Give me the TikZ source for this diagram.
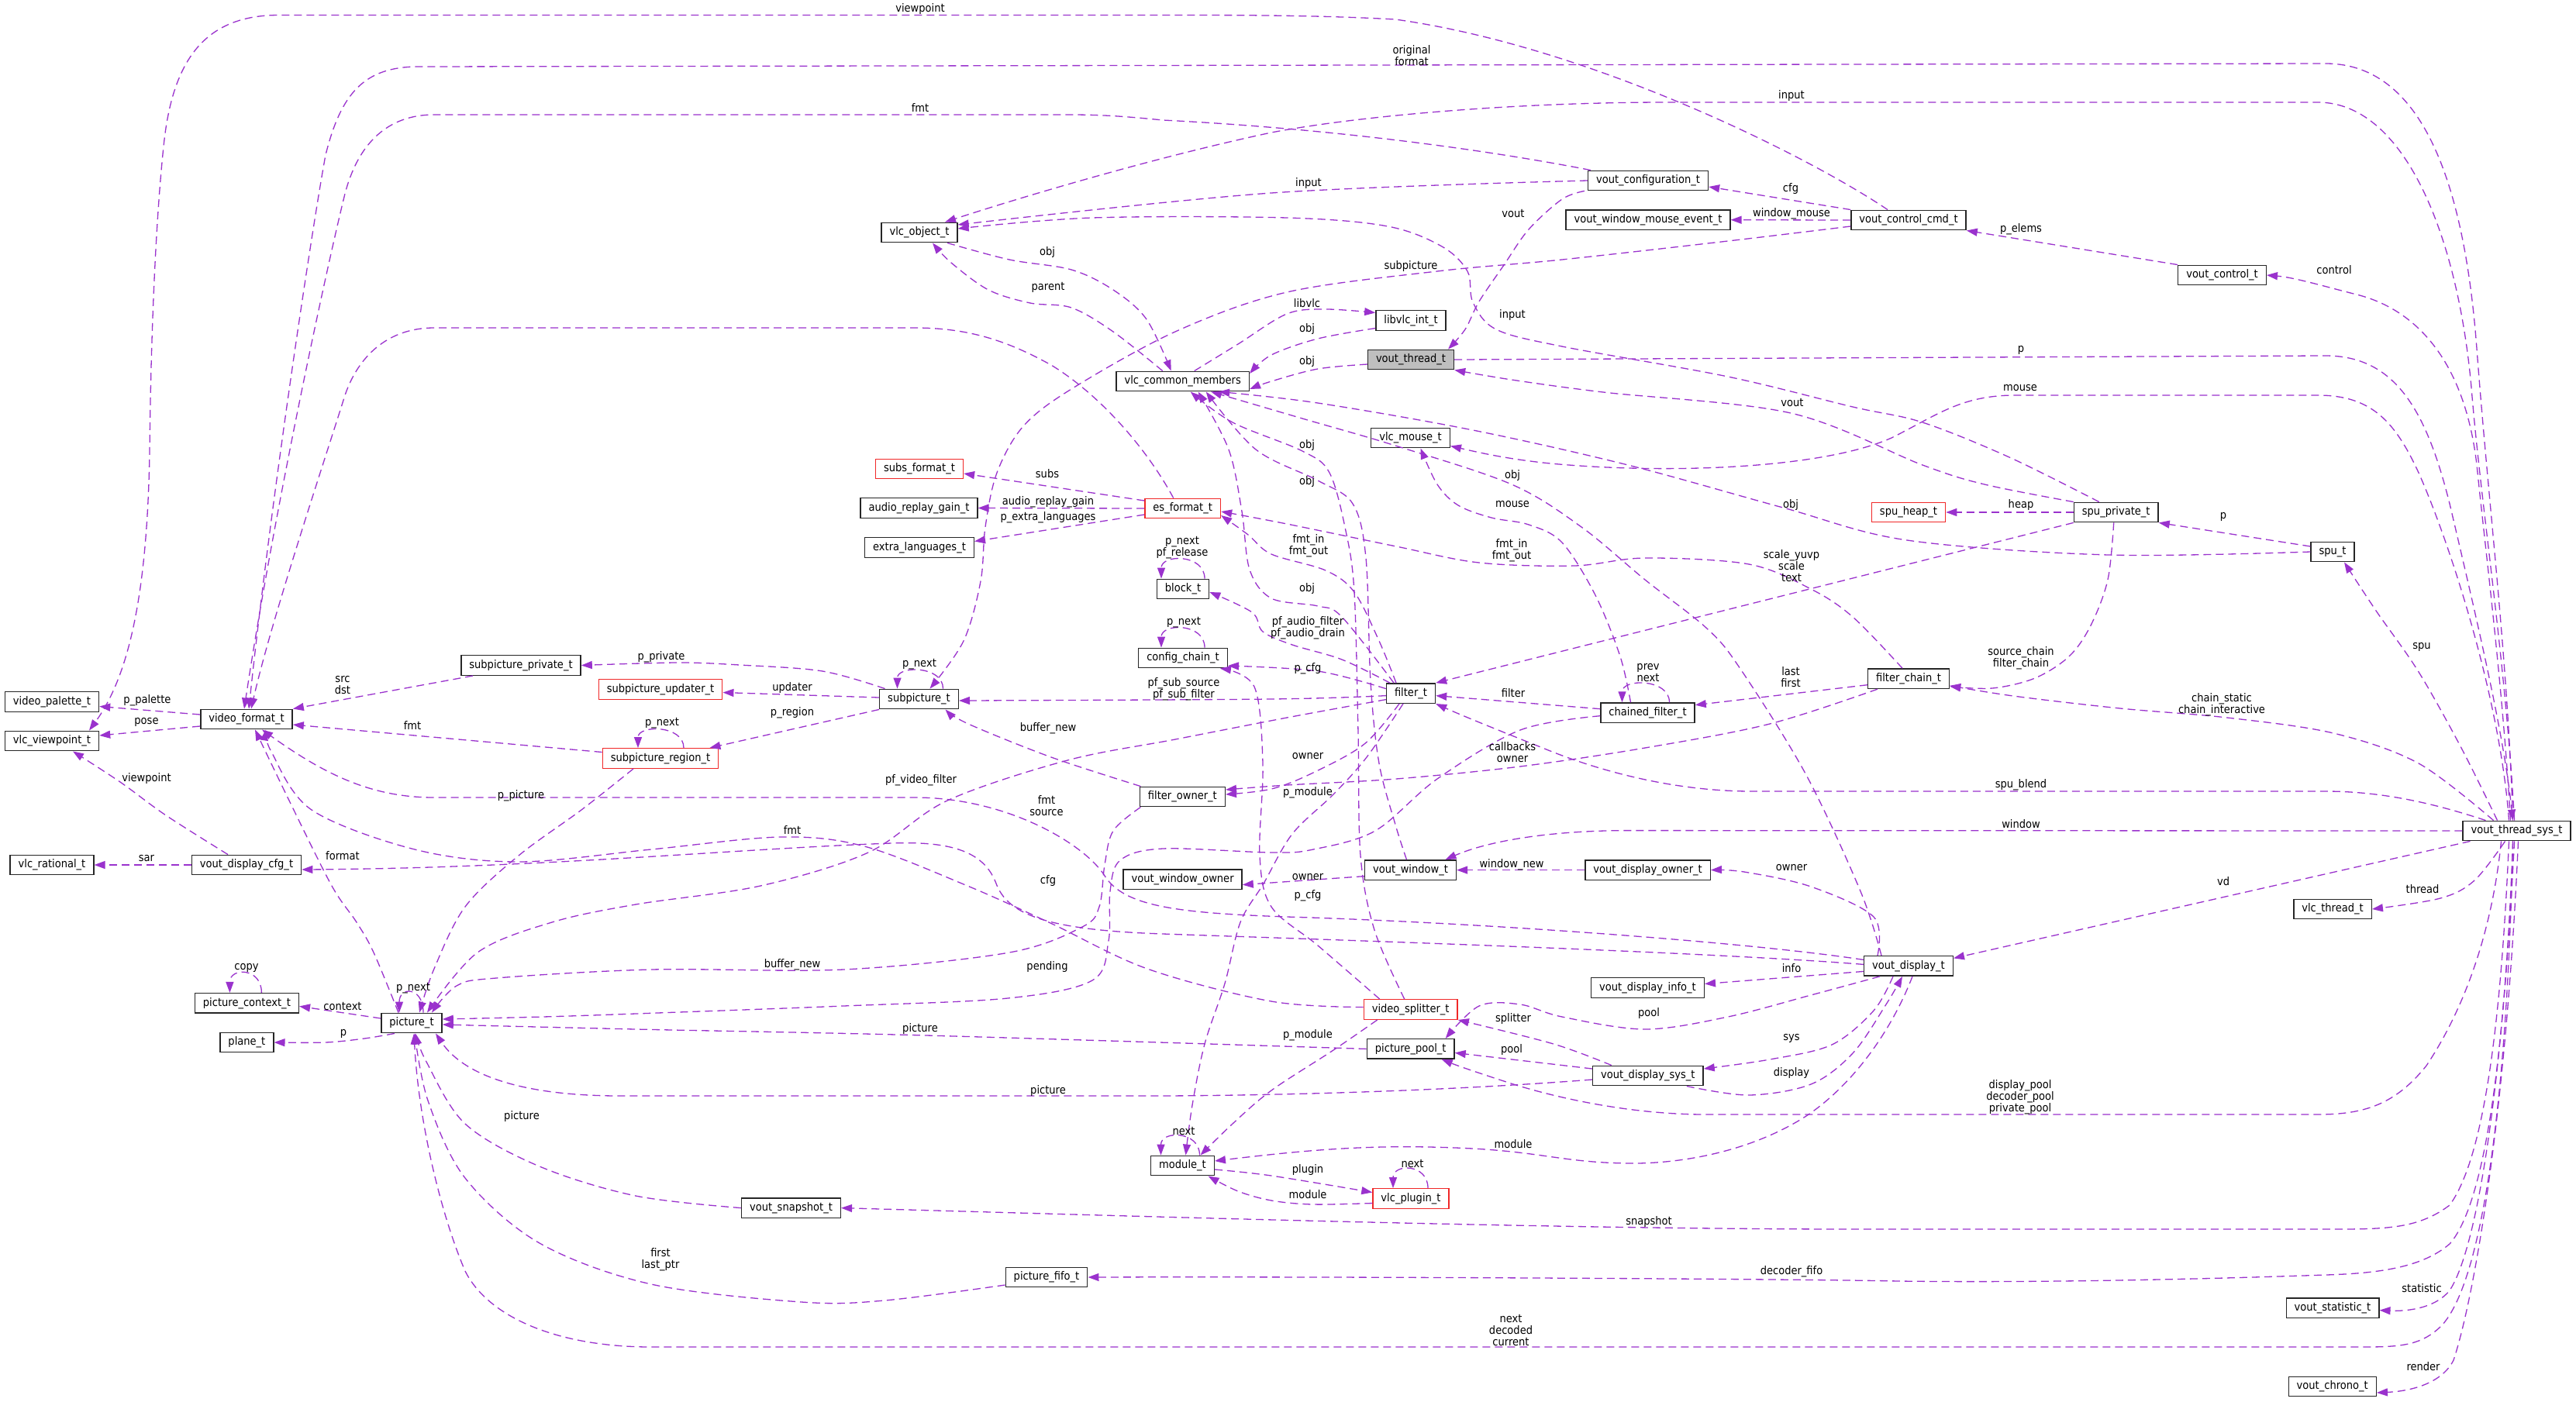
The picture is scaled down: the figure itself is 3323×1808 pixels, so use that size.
\documentclass[tikz,border=0pt]{standalone}
\usepackage{fontspec}
\newfontfamily\nf{DejaVu Sans}[FakeStretch=0.9]
\usetikzlibrary{arrows.meta}
\definecolor{ecol}{RGB}{154,50,205}
\definecolor{rcol}{RGB}{240,40,40}
\definecolor{gcol}{RGB}{191,191,191}
\newcommand\nodefont{\nf\fontsize{14.5pt}{15pt}\selectfont}
\newcommand\edgeP[1]{\draw[edg] plot[smooth,tension=0.55] coordinates {#1};}
\newcommand\lab[4]{\node[lbl] (#1) at (#2,#3) {#4};}
\tikzset{
 box/.style={draw=black!85, line width=1.4pt, fill=white, minimum height=25.5pt, inner xsep=10.5pt, inner ysep=0pt, font=\nodefont},
 redbox/.style={box, draw=rcol},
 graybox/.style={box, fill=gcol},
 edg/.style={draw=ecol, line width=1.3pt, dash pattern=on 10pt off 6pt, -{Triangle[length=14pt,width=10pt,fill=ecol]}},
 lbl/.style={font=\nodefont, align=center, inner sep=0pt}
}
\begin{document}
\begin{tikzpicture}[x=1pt,y=-1pt]
\fill[white] (0,0) rectangle (3323,1808);
\useasboundingbox (0,0) rectangle (3323,1808);
% nodes
\node[box] (vpal) at (67,905.5) {video\_palette\_t};
\node[box] (vvp) at (67,956) {vlc\_viewpoint\_t};
\node[box] (vfmt) at (318,928) {video\_format\_t};
\node[box] (vrat) at (67,1116) {vlc\_rational\_t};
\node[box] (vdcfg) at (318,1116) {vout\_display\_cfg\_t};
\node[box] (sppriv) at (672,858.5) {subpicture\_private\_t};
\node[redbox] (spupd) at (852,889.5) {subpicture\_updater\_t};
\node[redbox] (spreg) at (852,978.5) {subpicture\_region\_t};
\node[box] (subpic) at (1185.5,902) {subpicture\_t};
\node[redbox] (subsf) at (1186,605) {subs\_format\_t};
\node[box] (argain) at (1185.5,655.5) {audio\_replay\_gain\_t};
\node[box] (extl) at (1186,706.5) {extra\_languages\_t};
\node[redbox] (esf) at (1525.7,656) {es\_format\_t};
\node[box] (blk) at (1526,760) {block\_t};
\node[box] (cfgc) at (1526,849) {config\_chain\_t};
\node[box] (fown) at (1525.4,1028) {filter\_owner\_t};
\node[box] (vwown) at (1525.6,1134.6) {vout\_window\_owner};
\node[box] (vobj) at (1186,300) {vlc\_object\_t};
\node[box] (vcm) at (1525.7,492) {vlc\_common\_members};
\node[box] (vcfg) at (2126,233) {vout\_configuration\_t};
\node[box] (vwme) at (2126,283.7) {vout\_window\_mouse\_event\_t};
\node[box] (vccmd) at (2462,284) {vout\_control\_cmd\_t};
\node[box] (libvlc) at (1820,413.5) {libvlc\_int\_t};
\node[graybox] (vth) at (1820,464) {vout\_thread\_t};
\node[box] (vmouse) at (1819.5,565) {vlc\_mouse\_t};
\node[box] (vctl) at (2866.5,355) {vout\_control\_t};
\node[redbox] (spuheap) at (2462,661) {spu\_heap\_t};
\node[box] (spupriv) at (2729.7,661) {spu\_private\_t};
\node[box] (spu) at (3009,712) {spu\_t};
\node[box] (fchain) at (2462,875.7) {filter\_chain\_t};
\node[box] (filt) at (1820,894.6) {filter\_t};
\node[box] (chf) at (2125.5,919.7) {chained\_filter\_t};
\node[box] (vwin) at (1819.5,1122.6) {vout\_window\_t};
\node[box] (vdown) at (2125.5,1122.6) {vout\_display\_owner\_t};
\node[box] (vts) at (3246.5,1072) {vout\_thread\_sys\_t};
\node[box] (vthr) at (3009,1173) {vlc\_thread\_t};
\node[box] (vd) at (2462,1246.4) {vout\_display\_t};
\node[box] (vdinfo) at (2125.5,1274.5) {vout\_display\_info\_t};
\node[redbox] (vsplit) at (1819.7,1302.5) {video\_splitter\_t};
\node[box] (ppool) at (1819.7,1353.4) {picture\_pool\_t};
\node[box] (vdsys) at (2125.8,1388) {vout\_display\_sys\_t};
\node[box] (mod) at (1525.5,1504) {module\_t};
\node[redbox] (plug) at (1820,1546.5) {vlc\_plugin\_t};
\node[box] (snap) at (1020.5,1558.6) {vout\_snapshot\_t};
\node[box] (pfifo) at (1350,1648) {picture\_fifo\_t};
\node[box] (vstat) at (3009,1687.6) {vout\_statistic\_t};
\node[box] (vchr) at (3008.7,1789) {vout\_chrono\_t};
\node[box] (pctx) at (318.4,1294.4) {picture\_context\_t};
\node[box] (plane) at (318.4,1345) {plane\_t};
\node[box] (pic) at (531,1320) {picture\_t};
% long edges (explicit curves)
\draw[edg] ([xshift=-27pt]vccmd.north) .. controls (2330,200) and (2050,60) .. (1800,25) .. controls (1700,19.5) and (1600,19.5) .. (1500,19.5) -- (360,19.5) .. controls (270,19.5) and (225,70) .. (212,180) .. controls (203,260) and (195,400) .. (193,584) .. controls (190,760) and (168,870) .. ([xshift=48pt]vvp.north);
\draw[edg] ([xshift=-5pt]vts.north) .. controls (3235,850) and (3210,650) .. (3195,450) .. controls (3180,250) and (3130,82) .. (3000,82) -- (540,86) .. controls (470,86) and (440,120) .. (420,200) .. controls (405,280) and (350,640) .. ([xshift=3pt]vfmt.north);
\draw[edg] ([xshift=-74pt]vcfg.north) .. controls (1900,190) and (1700,165) .. (1500,155) .. controls (1450,150) and (1420,148) .. (1380,148) -- (560,148) .. controls (500,148) and (462,185) .. (445,250) .. controls (425,330) and (355,650) .. ([xshift=-3pt]vfmt.north);
\draw[edg] ([xshift=-3pt]vts.north) .. controls (3232,850) and (3200,650) .. (3188,500) .. controls (3170,300) and (3100,132) .. (2990,132) -- (2150,132) .. controls (1950,132) and (1750,150) .. (1640,171) .. controls (1480,205) and (1300,260) .. ([xshift=33pt]vobj.north);
\draw[edg] ([xshift=-8pt]vts.north) .. controls (3228,880) and (3205,700) .. (3195,600) .. controls (3180,470) and (3120,400) .. (3040,380) .. controls (3000,370) and (2960,358) .. (vctl.east);
\draw[edg] (vth.east) -- (3000,459) .. controls (3090,459) and (3130,530) .. (3160,650) .. controls (3200,820) and (3230,950) .. ([xshift=-5pt]vts.north);
\draw[edg] ([xshift=-10pt]vts.north) .. controls (3225,900) and (3160,700) .. (3120,610) .. controls (3090,545) and (3060,510) .. (2990,510) -- (2600,510) .. controls (2530,510) and (2500,535) .. (2440,565) .. controls (2350,605) and (2150,612) .. (2000,598) .. controls (1940,592) and (1900,582) .. ([yshift=3pt]vmouse.south east);
\draw[edg] ([xshift=-12pt]esf.north) .. controls (1480,580) and (1420,510) .. (1356,471) .. controls (1300,440) and (1250,423) .. (1180,423) -- (560,423) .. controls (500,423) and (462,460) .. (445,510) .. controls (420,590) and (350,800) .. ([xshift=6pt]vfmt.north);
\draw[edg] ([xshift=-40pt]vts.north) .. controls (3150,1040) and (3080,1021) .. (3000,1021) -- (2260,1021) .. controls (2150,1021) and (2050,990) .. (1990,965) .. controls (1940,945) and (1890,925) .. (filt.south east);
\draw[edg] (vts.west) -- (2100,1071.6) .. controls (2000,1071.6) and (1920,1085) .. ([xshift=45pt]vwin.north);
\draw[edg] ([xshift=-20pt]vts.south) .. controls (3215,1200) and (3180,1300) .. (3130,1375) .. controls (3090,1425) and (3050,1438) .. (2990,1438) -- (2200,1438) .. controls (2100,1438) and (2000,1415) .. (1940,1395) .. controls (1900,1382) and (1880,1375) .. ([xshift=40pt]ppool.south);
\draw[edg] ([xshift=5pt]vd.south) .. controls (2440,1330) and (2390,1400) .. (2330,1440) .. controls (2260,1485) and (2170,1502) .. (2100,1501) .. controls (2020,1500) and (1990,1487) .. (1900,1482) .. controls (1780,1476) and (1700,1482) .. ([yshift=6pt]mod.east);
\draw[edg] ([xshift=-5pt]vts.south) .. controls (3235,1400) and (3205,1650) .. (3150,1710) .. controls (3125,1735) and (3100,1738) .. (3050,1738) -- (840,1738) .. controls (720,1738) and (630,1700) .. (600,1640) .. controls (570,1570) and (540,1450) .. ([xshift=3pt]pic.south);
\draw[edg] ([xshift=-10pt]vts.south) .. controls (3225,1350) and (3200,1500) .. (3160,1555) .. controls (3120,1585) and (3080,1586) .. (3010,1586) -- (2400,1586) .. controls (2000,1586) and (1500,1570) .. (snap.east);
\draw[edg] ([xshift=-5pt]vts.south) .. controls (3230,1400) and (3200,1560) .. (3160,1605) .. controls (3125,1635) and (3070,1643) .. (3000,1645) .. controls (2800,1652) and (2600,1655) .. (2450,1653) .. controls (2300,1650) and (1700,1647) .. (pfifo.east);
\draw[edg] ([xshift=-3pt]vts.south) .. controls (3225,1450) and (3190,1620) .. (3160,1665) .. controls (3140,1690) and (3100,1692) .. ([yshift=-3pt]vstat.east);
\draw[edg] ([xshift=2pt]vts.south) .. controls (3232,1450) and (3190,1680) .. (3165,1755) .. controls (3150,1785) and (3110,1795) .. ([yshift=-8pt]vchr.east);
\draw[edg] ([yshift=8pt]vd.west) .. controls (2250,1215) and (1900,1190) .. (1660,1183) .. controls (1520,1178) and (1450,1170) .. (1425,1130) .. controls (1400,1090) and (1300,1029) .. (1180,1029) -- (560,1029) .. controls (480,1029) and (420,1000) .. ([xshift=20pt]vfmt.south);
\draw[edg] ([yshift=2pt]vd.west) .. controls (2200,1228) and (1700,1212) .. (1500,1205) .. controls (1350,1200) and (1300,1180) .. (1285,1140) .. controls (1270,1100) and (1230,1085) .. (1150,1088) .. controls (950,1095) and (700,1120) .. ([yshift=-6pt]vdcfg.east);
\draw[edg] ([yshift=-5pt]vdsys.west) .. controls (1900,1405) and (1700,1413) .. (1500,1414) -- (800,1414) .. controls (680,1414) and (600,1390) .. ([xshift=31pt]pic.south);
% other edges
\edgeP{(vcfg.west) (1640,249) ([yshift=10pt]vobj.east)}
\edgeP{([xshift=-22pt]spupriv.north) (2592,590) (2480,545) (2390,525) (2229,486) (2015,447) (1930,425) (1900,390) (1893,350) (1860,318) (1790,292) (1660,281) (1409,281) ([yshift=5pt]vobj.east)}
\edgeP{(spupriv.north west) (2560,625) (2480,600) (2310,533) (2068,506) (1950,490) (vth.south east)}
\edgeP{([xshift=-82pt]vcfg.south) (2015,257) (1972,296) (1940,342) (1908,389) (1890,425) ([xshift=48pt]vth.north)}
\edgeP{(vccmd.north west) ([yshift=-8pt]vcfg.east)}
\edgeP{(vccmd.west) (vwme.east)}
\edgeP{(vctl.north west) (vccmd.south east)}
\edgeP{([xshift=36pt]vobj.south) (1302,335) (1382,348) (1436,374) (1479,412) ([xshift=-15pt]vcm.north)}
\edgeP{([xshift=-26pt]vcm.north) (1436,428) (1382,397) (1329,391) (1275,374) (1227,339) ([xshift=17pt]vobj.south)}
\edgeP{([xshift=15pt]vcm.north) (1597,444) (1660,405) (1710,399) ([yshift=10pt]libvlc.west)}
\edgeP{([yshift=-10pt]libvlc.west) (1700,437) (1640,458) ([yshift=10pt]vcm.east)}
\edgeP{([yshift=-6pt]vth.west) (1700,476) (1640,492) ([yshift=-10pt]vcm.east)}
\edgeP{([yshift=-8pt]vccmd.west) (2229,311) (2015,335) (1854,350) (1660,377) (1516,428) (1382,502) (1320,550) (1286,610) (1271,680) (1265,750) (1243,827) ([xshift=14pt]subpic.north)}
\edgeP{(spu.west) (2720,716) (2460,697) (2300,655) (2100,600) (1900,555) (1700,520) ([xshift=-40pt]vcm.south east)}
\edgeP{([xshift=-35pt]vd.north) (2400,1150) (2330,1000) (2245,863) (2202,811) (2122,748) (2040,680) (1950,625) (1800,575) (1680,540) ([xshift=-50pt]vcm.south east)}
\edgeP{([xshift=-22pt]filt.north) (1731,796) (1700,782) (1640,772) (1612,735) (1602,660) (1585,580) ([xshift=20pt]vcm.south)}
\edgeP{([xshift=-5pt]vwin.north) (1800,1064) (1779,985) (1768,880) (1762,720) (1745,650) (1700,620) (1620,580) ([xshift=30pt]vcm.south)}
\edgeP{([xshift=-8pt]vsplit.north) (1773,1200) (1755,1104) (1752,946) (1747,764) (1736,685) (1715,610) (1680,582) (1590,545) ([xshift=10pt]vcm.south)}
\edgeP{([yshift=6pt]filt.west) (1700,866) ([yshift=-10pt]cfgc.east)}
\edgeP{([xshift=-27pt]filt.north) (1731,851) (1667,832) (1629,815) (1615,790) ([yshift=-4pt]blk.east)}
\edgeP{([xshift=-19pt]filt.north) (1779,827) (1747,764) (1710,736) (1640,715) (1610,690) ([yshift=-9pt]esf.east)}
\edgeP{([xshift=-8pt]fchain.north) (2390,796) (2336,760) (2256,728) (2122,720) (2031,730) (1908,726) (1801,705) (1660,676) ([yshift=-4pt]esf.east)}
\edgeP{([yshift=10pt]esf.west) ([yshift=-6pt]subsf.east)}
\edgeP{(esf.west) (argain.east)}
\edgeP{([yshift=-8pt]esf.west) ([yshift=8pt]extl.east)}
\edgeP{(spupriv.west) (spuheap.east)}
\edgeP{([yshift=7pt]spu.west) (spupriv.south east)}
\edgeP{(spupriv.south west) (filt.north east)}
\edgeP{([xshift=-3pt]spupriv.south) (2719,748) (2697,807) (2669,847) (2625,875) (2570,888) ([yshift=-10pt]fchain.east)}
\edgeP{([xshift=-30pt]vts.north) (3120,985) (3010,946) (2873,926) (2735,914) (2597,898) ([yshift=-9pt]fchain.east)}
\edgeP{([xshift=-25pt]vts.north) (3175,965) (3120,867) (3065,788) ([xshift=15pt]spu.south)}
\edgeP{([yshift=-8pt]fchain.west) ([yshift=10pt]chf.east)}
\edgeP{([yshift=5pt]chf.west) ([yshift=-3pt]filt.east)}
\edgeP{([xshift=-22pt]chf.north) (2090,847) (2058,768) (2015,700) (1972,677) (1924,668) (1881,652) (1854,625) ([xshift=13pt]vmouse.south)}
\edgeP{([xshift=-40pt]fchain.south) (2283,934) (2122,965) (1961,989) (1801,1005) (1660,1013) ([yshift=9pt]fown.east)}
\edgeP{([xshift=-15pt]filt.south) (1760,960) (1694,997) (1640,1018) ([yshift=3pt]fown.east)}
\edgeP{([yshift=-3pt]filt.west) (1640,902) ([yshift=-2pt]subpic.east)}
\edgeP{([xshift=-54pt]fown.north) (1356,977) (1249,934) ([xshift=34pt]subpic.south)}
\edgeP{([xshift=-44pt]subpic.north) (1061,866) (954,858) (874,855) (sppriv.east)}
\edgeP{([yshift=2pt]subpic.west) ([yshift=-4pt]spupd.east)}
\edgeP{(subpic.south west) ([xshift=-12pt]spreg.north east)}
\edgeP{([xshift=-62pt]sppriv.south) (vfmt.north east)}
\edgeP{([yshift=6pt]vfmt.west) ([yshift=-6pt]vpal.east)}
\edgeP{([yshift=-9pt]vfmt.west) ([yshift=7pt]vvp.east)}
\edgeP{([yshift=8pt]spreg.west) ([yshift=-7pt]vfmt.east)}
\edgeP{([xshift=-24pt]vdcfg.north) (214,1052) (155,1009) ([xshift=27pt]vvp.south)}
\edgeP{(vdcfg.west) (vrat.east)}
\edgeP{([xshift=-17pt]pic.north) (482,1229) (460,1190) (428,1143) (375,1037) ([xshift=11pt]vfmt.south)}
\edgeP{([yshift=3pt]vsplit.west) (1640,1292) (1480,1250) (1355,1191) (1248,1143) (1115,1092) (1007,1080) (840,1096) (669,1112) (535,1096) (402,1045) (350,970) ([xshift=25pt]vfmt.south)}
\edgeP{([xshift=-60pt]vts.south) ([yshift=10pt]vd.east)}
\edgeP{([xshift=-15pt]vts.south) (3192,1136) (3148,1159) (vthr.east)}
\edgeP{([xshift=-40pt]vd.north) (2417,1183) (2336,1144) (2250,1125) (vdown.east)}
\edgeP{(vdown.west) (vwin.east)}
\edgeP{([yshift=-8pt]vwin.west) ([yshift=-7pt]vwown.east)}
\edgeP{([yshift=-7pt]vd.west) ([yshift=5pt]vdinfo.east)}
\edgeP{([xshift=-37pt]vd.south) (2336,1284) (2229,1312) (2122,1328) (2015,1312) (1961,1296) (1908,1298) ([xshift=45pt]ppool.north)}
\edgeP{([xshift=-47pt]vdsys.north) (2004,1347) (vsplit.south east)}
\edgeP{([yshift=9pt]vdsys.west) ([yshift=-5pt]ppool.east)}
\edgeP{([xshift=-20pt]vd.south) (2417,1304) (2363,1348) (2283,1367) ([yshift=9pt]vdsys.east)}
\edgeP{([xshift=50pt]vdsys.south) (2256,1413) (2336,1399) (2390,1359) (2433,1296) ([xshift=-8pt]vd.south)}
\edgeP{([yshift=-5pt]mod.east) (1640,1517) ([yshift=8pt]plug.west)}
\edgeP{([yshift=-6pt]plug.west) (1693,1554) (1640,1549) (1597,1537) ([xshift=33pt]mod.south)}
\edgeP{([xshift=-10pt]filt.south) (1763,977) (1720,1025) (1667,1076) (1630,1140) (1600,1190) (1580,1269) (1554,1347) (1538,1426) ([xshift=4pt]mod.north)}
\edgeP{([xshift=-43pt]vsplit.south) (1720,1355) (1640,1407) (1590,1450) ([xshift=23pt]mod.north)}
\edgeP{([xshift=-40pt]vsplit.north) (1700,1220) (1640,1170) (1625,1104) (1629,985) (1618,886) ([xshift=-10pt]cfgc.south east)}
\edgeP{(ppool.west) (1195,1336) (820,1328) ([yshift=-2pt]pic.east)}
\edgeP{(snap.west) (820,1543) (696,1505) (600,1450) (550,1370) ([xshift=5pt]pic.south)}
\edgeP{([yshift=-10pt]pfifo.west) (1141,1678) (1034,1680) (840,1657) (696,1604) (600,1520) (552,1420) ([xshift=4pt]pic.south)}
\edgeP{([yshift=-8pt]filt.west) (1660,926) (1516,954) (1377,981) (1222,1033) (1120,1100) (981,1143) (820,1167) (712,1190) (616,1229) ([xshift=20pt]pic.north)}
\edgeP{([xshift=-35pt]spreg.south) (750,1045) (669,1104) (600,1170) (560,1250) ([xshift=10pt]pic.north)}
\edgeP{([xshift=-54pt]fown.south) (1436,1072) (1425,1116) (1418,1170) (1396,1196) (1302,1229) (1088,1251) (840,1251) (640,1262) (589,1272) ([xshift=26pt]pic.north)}
\edgeP{([yshift=-4pt]chf.west) (1961,942) (1854,1005) (1774,1072) (1694,1096) (1640,1100) (1500,1095) (1445,1110) (1432,1150) (1430,1214) (1409,1265) (1300,1288) (1088,1298) (820,1308) (700,1312) ([yshift=5pt]pic.east)}
\edgeP{([yshift=6pt]pic.west) ([yshift=-4pt]pctx.east)}
\edgeP{([xshift=-22pt]pic.south) (470,1340) (420,1345) (plane.east)}
% self loops
\draw[edg] ([xshift=31pt]subpic.north) .. controls +(0,-30) and +(0,-30) .. ([xshift=-28pt]subpic.north);
\draw[edg] ([xshift=30pt]spreg.north) .. controls +(0,-30) and +(0,-30) .. ([xshift=-29pt]spreg.north);
\draw[edg] ([xshift=28pt]blk.north) .. controls +(0,-32) and +(0,-32) .. ([xshift=-28pt]blk.north);
\draw[edg] ([xshift=28pt]cfgc.north) .. controls +(0,-32) and +(0,-32) .. ([xshift=-28pt]cfgc.north);
\draw[edg] ([xshift=28pt]chf.north) .. controls +(0,-31) and +(0,-31) .. ([xshift=-33pt]chf.north);
\draw[edg] ([xshift=15pt]pic.north) .. controls +(0,-34) and +(0,-34) .. ([xshift=-16pt]pic.north);
\draw[edg] ([xshift=19pt]pctx.north) .. controls +(0,-33) and +(0,-33) .. ([xshift=-22pt]pctx.north);
\draw[edg] ([xshift=22pt]mod.north) .. controls +(0,-32) and +(0,-32) .. ([xshift=-28pt]mod.north);
\draw[edg] ([xshift=22pt]plug.north) .. controls +(0,-32) and +(0,-32) .. ([xshift=-23pt]plug.north);
% labels
\lab{l1}{1187}{11}{viewpoint}
\lab{l2}{1821}{72}{original\\format}
\lab{l3}{2311}{123}{input}
\lab{l4}{1187}{139}{fmt}
\lab{l5}{1688}{236}{input}
\lab{l6}{2310}{243}{cfg}
\lab{l7}{2311}{276}{window\_mouse}
\lab{l8}{1952}{276}{vout}
\lab{l9}{2607}{296}{p\_elems}
\lab{l10}{3011}{348}{control}
\lab{l11}{1351}{325}{obj}
\lab{l12}{1820}{343}{subpicture}
\lab{l13}{1352}{371}{parent}
\lab{l14}{1686}{391}{libvlc}
\lab{l15}{1951}{406}{input}
\lab{l16}{1686}{424}{obj}
\lab{l17}{2607}{452}{p}
\lab{l18}{1686}{466}{obj}
\lab{l19}{2606}{501}{mouse}
\lab{l20}{2312}{520}{vout}
\lab{l21}{1686}{574}{obj}
\lab{l22}{1951}{613}{obj}
\lab{l23}{1686}{621}{obj}
\lab{l24}{2310}{651}{obj}
\lab{l25}{1351}{611}{subs}
\lab{l26}{1352}{648}{audio\_replay\_gain}
\lab{l27}{1352}{668}{p\_extra\_languages}
\lab{l28}{2607}{651}{heap}
\lab{l29}{1951}{651}{mouse}
\lab{l30}{2868}{667}{p}
\lab{l31}{1688}{704}{fmt\_in\\fmt\_out}
\lab{l32}{1950}{710}{fmt\_in\\fmt\_out}
\lab{l33}{2311}{730}{scale\_yuvp\\scale\\text}
\lab{l34}{1525}{707}{p\_next\\pf\_release}
\lab{l35}{1686}{759}{obj}
\lab{l36}{1687}{810}{pf\_audio\_filter\\pf\_audio\_drain}
\lab{l37}{1527}{803}{p\_next}
\lab{l38}{3124}{835}{spu}
\lab{l39}{2607}{849}{source\_chain\\filter\_chain}
\lab{l40}{853}{848}{p\_private}
\lab{l41}{1186}{857}{p\_next}
\lab{l42}{1687}{863}{p\_cfg}
\lab{l43}{2126}{868}{prev\\next}
\lab{l44}{2310}{874}{last\\first}
\lab{l45}{442}{884}{src\\dst}
\lab{l46}{1022}{887}{updater}
\lab{l47}{1527}{889}{pf\_sub\_source\\pf\_sub\_filter}
\lab{l48}{1952}{894}{filter}
\lab{l49}{2866}{909}{chain\_static\\chain\_interactive}
\lab{l50}{190}{904}{p\_palette}
\lab{l51}{189}{932}{pose}
\lab{l52}{532}{936}{fmt}
\lab{l53}{854}{933}{p\_next}
\lab{l54}{1022}{920}{p\_region}
\lab{l55}{1352}{940}{buffer\_new}
\lab{l56}{1951}{971}{callbacks\\owner}
\lab{l57}{1687}{976}{owner}
\lab{l58}{189}{1004}{viewpoint}
\lab{l59}{1188}{1007}{pf\_video\_filter}
\lab{l60}{2607}{1013}{spu\_blend}
\lab{l61}{672}{1027}{p\_picture}
\lab{l62}{1687}{1023}{p\_module}
\lab{l63}{1350}{1040}{fmt\\source}
\lab{l64}{2607}{1063}{window}
\lab{l65}{1022}{1071}{fmt}
\lab{l66}{442}{1104}{format}
\lab{l67}{189}{1108}{sar}
\lab{l68}{1950}{1116}{window\_new}
\lab{l69}{2311}{1120}{owner}
\lab{l70}{1687}{1132}{owner}
\lab{l71}{1352}{1136}{cfg}
\lab{l72}{2868}{1137}{vd}
\lab{l73}{3125}{1147}{thread}
\lab{l74}{1687}{1156}{p\_cfg}
\lab{l75}{318}{1249}{copy}
\lab{l76}{1022}{1245}{buffer\_new}
\lab{l77}{1351}{1247}{pending}
\lab{l78}{2311}{1249}{info}
\lab{l79}{533}{1275}{p\_next}
\lab{l80}{442}{1298}{context}
\lab{l81}{2127}{1307}{pool}
\lab{l82}{1952}{1314}{splitter}
\lab{l83}{1187}{1327}{picture}
\lab{l84}{443}{1334}{p}
\lab{l85}{1687}{1336}{p\_module}
\lab{l86}{2311}{1340}{sys}
\lab{l87}{1950}{1354}{pool}
\lab{l88}{2311}{1384}{display}
\lab{l89}{1352}{1407}{picture}
\lab{l90}{2606}{1416}{display\_pool\\decoder\_pool\\private\_pool}
\lab{l91}{673}{1440}{picture}
\lab{l92}{1527}{1459}{next}
\lab{l93}{1952}{1476}{module}
\lab{l94}{1822}{1501}{next}
\lab{l95}{1687}{1509}{plugin}
\lab{l96}{1687}{1541}{module}
\lab{l97}{2127}{1576}{snapshot}
\lab{l98}{852}{1625}{first\\last\_ptr}
\lab{l99}{2311}{1641}{decoder\_fifo}
\lab{l100}{3124}{1662}{statistic}
\lab{l101}{1949}{1716}{next\\decoded\\current}
\lab{l102}{3126}{1763}{render}
\end{tikzpicture}
\end{document}
